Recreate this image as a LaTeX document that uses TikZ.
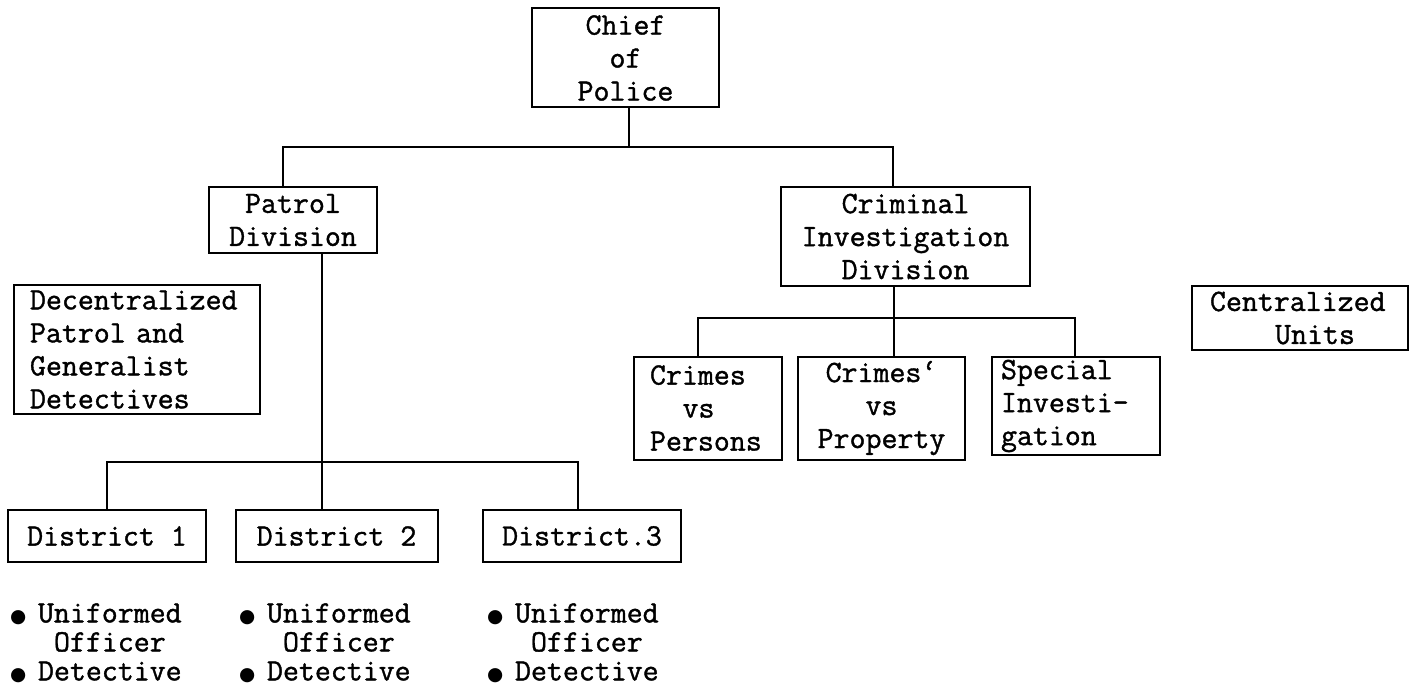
\documentclass[tikz,border=0pt]{standalone}
\usepackage{fontspec}
\setmainfont{Latin Modern Mono}[FakeBold=1.2]
\newfontfamily\bulfont{DejaVu Sans}[Scale=0.6]
\newcommand\boxfont{\fontsize{31}{33}\selectfont}
\newcommand\listfont{\fontsize{31}{29}\selectfont}
\newcommand\bul{\makebox[28pt][l]{\bulfont ●}}
\newcommand\chars[1]{\hspace*{#1\dimexpr 0.525em\relax}}
\begin{document}
\begin{tikzpicture}[x=1pt,y=-1pt,line width=2pt,
  box/.style={draw,line width=2pt,inner sep=0pt,align=center,font=\boxfont},
  lbox/.style={box,align=left},
  blist/.style={inner sep=0pt,align=left,font=\listfont,anchor=west}]
\useasboundingbox (0,0) rectangle (1410,687);
% top
\node[box,minimum width=187pt,minimum height=99pt] (chief) at (625.5,58) {Chief\\of\\Police};
\node[box,minimum width=168pt,minimum height=66pt] (patrol) at (293,220) {Patrol\\Division};
\node[box,minimum width=249pt,minimum height=99pt] (cid) at (905.5,236.5) {Criminal\\Investigation\\Division};
% side boxes
\node[lbox,minimum width=246pt,minimum height=129pt,text width=214pt] (decent) at (137,349.5) {Decentralized\\Patrol and\\Generalist\\Detectives};
\node[lbox,minimum width=216pt,minimum height=64pt,text width=180pt] (central) at (1300,318) {Centralized\\\chars{4}Units};
% CID units
\node[lbox,minimum width=148pt,minimum height=103pt,text width=116pt] (persons) at (708,408) {Crimes\\\chars{2}vs\\Persons};
\node[box,minimum width=167pt,minimum height=103pt] (property) at (881.5,408) {Crimes`\\vs\\Property};
\node[lbox,minimum width=168pt,minimum height=98pt,text width=150pt] (special) at (1076,406) {Special\\Investi-\\gation};
% districts
\node[box,minimum width=198pt,minimum height=52pt] (d1) at (107,536) {District 1};
\node[box,minimum width=202pt,minimum height=52pt] (d2) at (336.5,536) {District 2};
\node[box,minimum width=198pt,minimum height=52pt] (d3) at (582,536) {District.3};
% lists
\node[blist] (l1) at (9,643) {\bul Uniformed\\\hspace*{44pt}Officer\\\bul Detective};
\node[blist] (l2) at (238,643) {\bul Uniformed\\\hspace*{44pt}Officer\\\bul Detective};
\node[blist] (l3) at (486,643) {\bul Uniformed\\\hspace*{44pt}Officer\\\bul Detective};
% connectors
\coordinate (b1) at (629,147);
\coordinate (b2) at (894,318);
\coordinate (b3) at (322,462);
\draw (chief.south -| b1) -- (b1);
\draw ([xshift=-10pt]patrol.north) |- (b1) -| ([xshift=-12.5pt]cid.north);
\draw (cid.south -| b2) -- (b2);
\draw ([xshift=-10pt]persons.north) |- (b2) -| ([xshift=-1pt]special.north);
\draw ([xshift=12.5pt]property.north) -- (b2);
\draw (patrol.south -| b3) -- (b3);
\draw (d1.north) |- (b3) -| ([xshift=-4pt]d3.north);
\draw ([xshift=-14.5pt]d2.north) -- (b3);
\end{tikzpicture}
\end{document}
